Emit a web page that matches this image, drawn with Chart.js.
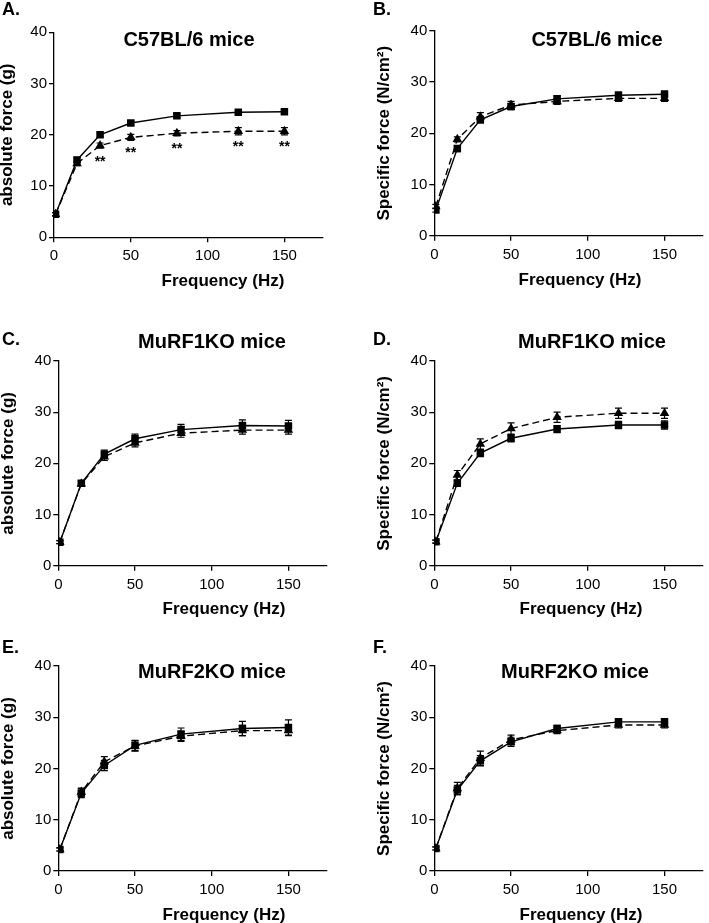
<!DOCTYPE html>
<html>
<head>
<meta charset="utf-8">
<script src="https://cdn.jsdelivr.net/npm/chart.js@4.4.1/dist/chart.umd.min.js"></script>
<style>
  html, body { margin: 0; padding: 0; background: #fff; }
  body { width: 709px; height: 923px; position: relative; overflow: hidden; }
  canvas { position: absolute; }
</style>
</head>
<body>
<canvas id="cA"></canvas>
<canvas id="cB"></canvas>
<canvas id="cC"></canvas>
<canvas id="cD"></canvas>
<canvas id="cE"></canvas>
<canvas id="cF"></canvas>
<script>
// ---------------- DATA ----------------
const frequencies = [1, 15, 30, 50, 80, 120, 150];
const xTicks = [0, 50, 100, 150];
const yTicks = [0, 10, 20, 30, 40];

// A. C57BL/6 mice – absolute force (g)
const aSquare      = [4.5, 15.1, 20.0, 22.3, 23.7, 24.4, 24.5];
const aSquareErr   = [0.3, 0.5, 0.4, 0.4, 0.4, 0.4, 0.4];
const aTriangle    = [4.5, 14.4, 17.9, 19.5, 20.3, 20.7, 20.7];
const aTriangleErr = [0.3, 0.4, 0.5, 0.6, 0.5, 0.7, 0.7];
const aSignif      = ['', '', '**', '**', '**', '**', '**'];

// B. C57BL/6 mice – specific force (N/cm2)
const bSquare      = [5.0, 17.0, 22.6, 25.2, 26.7, 27.4, 27.6];
const bSquareErr   = [0.4, 0.6, 0.6, 0.6, 0.6, 0.6, 0.6];
const bTriangle    = [5.7, 18.8, 23.2, 25.5, 26.2, 26.8, 26.8];
const bTriangleErr = [0.4, 0.5, 0.8, 0.7, 0.6, 0.6, 0.6];

// C. MuRF1KO mice – absolute force (g)
const cSquare      = [4.6, 16.1, 21.8, 24.8, 26.6, 27.4, 27.3];
const cSquareErr   = [0.3, 0.5, 0.8, 0.9, 1.0, 1.1, 1.1];
const cTriangle    = [4.6, 16.0, 21.3, 24.0, 25.9, 26.5, 26.5];
const cTriangleErr = [0.3, 0.5, 0.7, 0.8, 0.8, 0.8, 0.8];

// D. MuRF1KO mice – specific force (N/cm2)
const dSquare      = [4.7, 16.1, 22.0, 24.9, 26.7, 27.5, 27.5];
const dSquareErr   = [0.3, 0.6, 0.7, 0.7, 0.7, 0.7, 0.8];
const dTriangle    = [4.7, 17.7, 23.8, 26.8, 29.0, 29.8, 29.8];
const dTriangleErr = [0.3, 0.9, 1.0, 1.1, 1.0, 1.0, 1.0];

// E. MuRF2KO mice – absolute force (g)
const eSquare      = [4.2, 15.2, 20.6, 24.5, 26.7, 27.8, 28.0];
const eSquareErr   = [0.3, 0.9, 1.0, 1.0, 1.2, 1.4, 1.5];
const eTriangle    = [4.2, 15.4, 21.3, 24.4, 26.3, 27.4, 27.4];
const eTriangleErr = [0.3, 0.8, 1.0, 1.0, 1.0, 1.0, 1.0];

// F. MuRF2KO mice – specific force (N/cm2)
const fSquare      = [4.4, 15.8, 21.5, 25.2, 27.8, 29.1, 29.1];
const fSquareErr   = [0.3, 0.9, 1.0, 0.9, 0.6, 0.6, 0.6];
const fTriangle    = [4.4, 16.1, 22.0, 25.6, 27.4, 28.5, 28.5];
const fTriangleErr = [0.3, 1.2, 1.4, 0.9, 0.6, 0.6, 0.6];

const noSignif = ['', '', '', '', '', '', ''];

// ---------------- TEXT ----------------
const absLabel = 'absolute force (g)';
const specLabel = 'Specific force (N/cm\u00B2)';
const xLabel = 'Frequency (Hz)';

// ---------------- LAYOUT (page coordinates) ----------------
const FONT = '"Liberation Sans", Arial, Helvetica, sans-serif';
Chart.defaults.font.family = FONT;
Chart.defaults.color = '#000';

const panels = [
  { id: 'cA', letter: 'A.', title: 'C57BL/6 mice', yLabel: absLabel,
    sq: aSquare, sqErr: aSquareErr, tr: aTriangle, trErr: aTriangleErr, sig: aSignif,
    canvas: [0, 0, 345, 300], area: [54, 32.3, 322.8, 237.3],
    yTitleX: 7.5, letterPos: [2, 15], titlePos: [189, 46], xTitlePos: [223, 286] },
  { id: 'cB', letter: 'B.', title: 'C57BL/6 mice', yLabel: specLabel,
    sq: bSquare, sqErr: bSquareErr, tr: bTriangle, trErr: bTriangleErr, sig: noSignif,
    canvas: [355, 0, 354, 300], area: [434.3, 30.7, 702.9, 235.7],
    yTitleX: 384, letterPos: [373, 15], titlePos: [597, 46], xTitlePos: [580, 285] },
  { id: 'cC', letter: 'C.', title: 'MuRF1KO mice', yLabel: absLabel,
    sq: cSquare, sqErr: cSquareErr, tr: cTriangle, trErr: cTriangleErr, sig: noSignif,
    canvas: [0, 300, 345, 318], area: [58.3, 361, 326.8, 565.7],
    yTitleX: 8.5, letterPos: [2, 345], titlePos: [212, 348], xTitlePos: [224, 614] },
  { id: 'cD', letter: 'D.', title: 'MuRF1KO mice', yLabel: specLabel,
    sq: dSquare, sqErr: dSquareErr, tr: dTriangle, trErr: dTriangleErr, sig: noSignif,
    canvas: [355, 300, 354, 318], area: [434.3, 361, 702.9, 565.7],
    yTitleX: 384, letterPos: [373, 345], titlePos: [592, 348], xTitlePos: [581, 614] },
  { id: 'cE', letter: 'E.', title: 'MuRF2KO mice', yLabel: absLabel,
    sq: eSquare, sqErr: eSquareErr, tr: eTriangle, trErr: eTriangleErr, sig: noSignif,
    canvas: [0, 610, 345, 313], area: [58.3, 666, 326.8, 871],
    yTitleX: 8.5, letterPos: [2, 653], titlePos: [212, 678], xTitlePos: [224, 920] },
  { id: 'cF', letter: 'F.', title: 'MuRF2KO mice', yLabel: specLabel,
    sq: fSquare, sqErr: fSquareErr, tr: fTriangle, trErr: fTriangleErr, sig: noSignif,
    canvas: [355, 610, 354, 313], area: [434.3, 666, 702.9, 871],
    yTitleX: 384, letterPos: [373, 653], titlePos: [575, 678], xTitlePos: [581, 920] }
];

// ---------------- PLUGIN: error bars, significance, panel texts ----------------
const overlay = {
  id: 'overlay',
  beforeDatasetsDraw(chart) {
    const ctx = chart.ctx;
    const xs = chart.scales.x, ys = chart.scales.y;
    ctx.save();
    ctx.strokeStyle = '#000';
    ctx.lineWidth = 1.2;
    chart.data.datasets.forEach(ds => {
      ds.data.forEach((p, i) => {
        const e = ds.errors[i];
        const px = xs.getPixelForValue(p.x);
        const top = ys.getPixelForValue(p.y + e);
        const bot = ys.getPixelForValue(p.y - e);
        ctx.beginPath();
        ctx.moveTo(px, top); ctx.lineTo(px, bot);
        ctx.moveTo(px - 3.5, top); ctx.lineTo(px + 3.5, top);
        ctx.moveTo(px - 3.5, bot); ctx.lineTo(px + 3.5, bot);
        ctx.stroke();
      });
    });
    ctx.restore();
  },
  afterDraw(chart, args, o) {
    const ctx = chart.ctx;
    const xs = chart.scales.x, ys = chart.scales.y;
    ctx.save();
    ctx.fillStyle = '#000';
    ctx.textBaseline = 'alphabetic';
    // significance marks under the dashed (triangle) series
    const trDs = chart.data.datasets[1];
    ctx.font = 'bold 14px ' + FONT;
    ctx.textAlign = 'center';
    o.sig.forEach((s, i) => {
      if (!s) return;
      const p = trDs.data[i];
      ctx.fillText(s, xs.getPixelForValue(p.x), ys.getPixelForValue(p.y) + 20);
    });
    // panel letter
    ctx.font = 'bold 18px ' + FONT;
    ctx.textAlign = 'left';
    ctx.fillText(o.letter, o.letterPos[0], o.letterPos[1]);
    // panel title
    ctx.font = 'bold 20px ' + FONT;
    ctx.textAlign = 'center';
    ctx.fillText(o.title, o.titlePos[0], o.titlePos[1]);
    // x axis title
    ctx.font = 'bold 17px ' + FONT;
    ctx.fillText(o.xTitle, o.xTitlePos[0], o.xTitlePos[1]);
    ctx.restore();
  }
};

function makeChart(p) {
  const [cl, ct, cw, ch] = p.canvas;
  const [al, at, ar, ab] = p.area;
  const el = document.getElementById(p.id);
  el.width = cw; el.height = ch;
  el.style.left = cl + 'px'; el.style.top = ct + 'px';
  el.style.width = cw + 'px'; el.style.height = ch + 'px';

  const yW = al - cl;
  const xH = ct + ch - ab;
  const local = (pos) => [pos[0] - cl, pos[1] - ct];

  const axisCommon = {
    type: 'linear',
    grid: { display: true, drawOnChartArea: false, drawTicks: true, tickLength: 5, color: '#000', lineWidth: 1.3 },
    border: { display: true, color: '#000', width: 1.3 },
    ticks: { color: '#000', font: { size: 15, family: FONT }, autoSkip: false, maxRotation: 0 }
  };

  return new Chart(el, {
    type: 'line',
    data: {
      datasets: [
        { label: 'square', data: frequencies.map((f, i) => ({ x: f, y: p.sq[i] })), errors: p.sqErr,
          borderColor: '#000', backgroundColor: '#000', borderWidth: 1.4,
          pointStyle: 'rect', pointRadius: 5.3, pointBorderWidth: 0, pointBackgroundColor: '#000',
          tension: 0, fill: false },
        { label: 'triangle', data: frequencies.map((f, i) => ({ x: f, y: p.tr[i] })), errors: p.trErr,
          borderColor: '#000', backgroundColor: '#000', borderWidth: 1.4, borderDash: [7, 4],
          pointStyle: 'triangle', pointRadius: 5.5, pointBorderWidth: 0, pointBackgroundColor: '#000',
          tension: 0, fill: false }
      ]
    },
    options: {
      responsive: false,
      animation: false,
      devicePixelRatio: 1,
      events: [],
      layout: { padding: { left: 0, top: at - ct, right: cl + cw - ar, bottom: 0 } },
      plugins: {
        legend: { display: false },
        tooltip: { enabled: false },
        overlay: {
          sig: p.sig, letter: p.letter, title: p.title, xTitle: xLabel,
          letterPos: local(p.letterPos), titlePos: local(p.titlePos), xTitlePos: local(p.xTitlePos)
        }
      },
      scales: {
        x: Object.assign({}, axisCommon, {
          position: 'bottom', min: 0, max: 175,
          ticks: Object.assign({}, axisCommon.ticks, { padding: 5 }),
          afterBuildTicks: s => { s.ticks = xTicks.map(v => ({ value: v })); },
          afterFit: s => { s.height = xH; }
        }),
        y: Object.assign({}, axisCommon, {
          position: 'left', min: 0, max: 40,
          ticks: Object.assign({}, axisCommon.ticks, { padding: 2 }),
          afterBuildTicks: s => { s.ticks = yTicks.map(v => ({ value: v })); },
          afterFit: s => { s.width = yW; },
          title: { display: true, text: p.yLabel, color: '#000',
                   font: { size: 17, weight: 'bold', family: FONT, lineHeight: 1 },
                   padding: { top: p.yTitleX - cl - 8.5, bottom: 0 } }
        })
      }
    },
    plugins: [overlay]
  });
}

panels.forEach(makeChart);
</script>
</body>
</html>
